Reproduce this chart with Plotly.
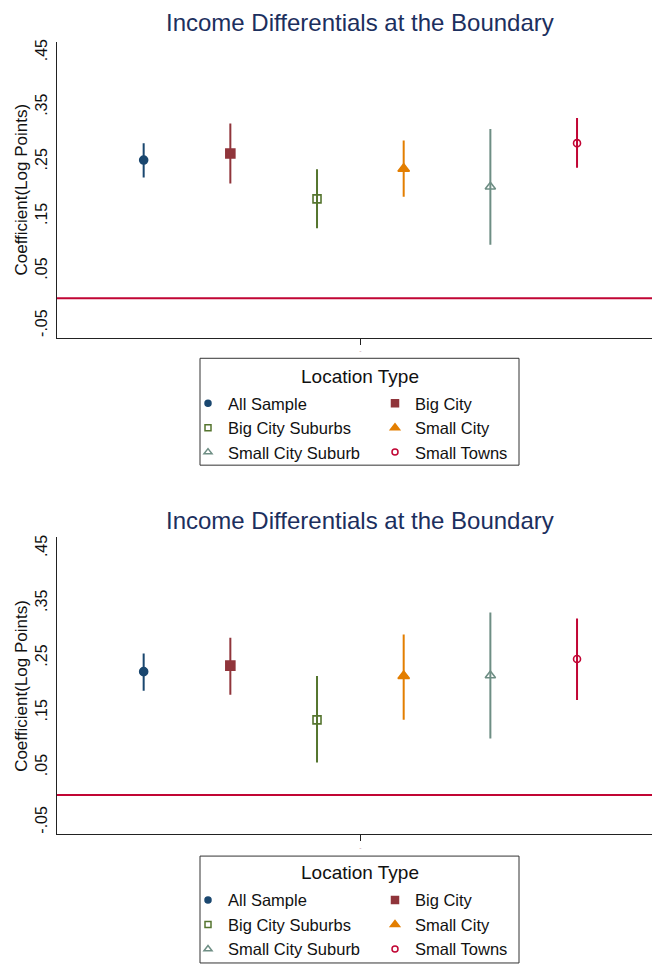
import plotly.graph_objects as go
from plotly.subplots import make_subplots

# Location types, in plotting order
categories = ["All Sample", "Big City", "Big City Suburbs",
              "Small City", "Small City Suburb", "Small Towns"]

# Panel A: point estimates and 95% confidence bounds
coef_a = [0.253, 0.265, 0.182, 0.237, 0.204, 0.284]
lo_a = [0.221, 0.210, 0.128, 0.186, 0.098, 0.239]
hi_a = [0.284, 0.320, 0.236, 0.289, 0.310, 0.330]

# Panel B: point estimates and 95% confidence bounds
coef_b = [0.225, 0.236, 0.137, 0.217, 0.218, 0.248]
lo_b = [0.190, 0.183, 0.059, 0.137, 0.103, 0.173]
hi_b = [0.258, 0.287, 0.217, 0.293, 0.333, 0.322]

ytick_vals = [-0.05, 0.05, 0.15, 0.25, 0.35, 0.45]
ytick_text = ["-.05", ".05", ".15", ".25", ".35", ".45"]

# Stata s2color-style palette and marker symbols
colors = ["#1a476f", "#90353b", "#55752f", "#e37e00", "#6e8e84", "#c10534"]
symbols = ["circle", "square", "square-open", "triangle-up",
           "triangle-up-open", "circle-open"]
sizes = [8, 9, 8, 10, 9, 7]
legend_sizes = [6, 7, 6, 8, 7, 6]

FONT = "Liberation Sans, Arial, Helvetica, sans-serif"
W, H = 652, 967
L = 57
PW = W - L


def px_x(p):
    return (p - L) / PW


def px_y(p):
    return 1 - p / H


fig = make_subplots(rows=2, cols=1)

panels = [(coef_a, lo_a, hi_a, 1, ("legend", "legend2")),
          (coef_b, lo_b, hi_b, 2, ("legend3", "legend4"))]

for coef, lo, hi, row, legs in panels:
    for i, name in enumerate(categories):
        fig.add_trace(
            go.Scatter(
                x=[i + 1], y=[coef[i]], name=name, mode="markers",
                marker=dict(symbol=symbols[i], size=sizes[i], color=colors[i],
                            line=dict(width=1.6, color=colors[i])),
                error_y=dict(type="data", symmetric=False,
                             array=[hi[i] - coef[i]],
                             arrayminus=[coef[i] - lo[i]],
                             color=colors[i], thickness=2, width=0),
                showlegend=False,
                hoverinfo="skip",
            ),
            row=row, col=1,
        )
    # legend keys (smaller symbols, two columns)
    for i, name in enumerate(categories):
        fig.add_trace(
            go.Scatter(
                x=[None], y=[None], name=name, mode="markers",
                marker=dict(symbol=symbols[i], size=legend_sizes[i],
                            color=colors[i],
                            line=dict(width=1.5, color=colors[i])),
                legend=legs[0] if i % 2 == 0 else legs[1],
                legendrank=i, showlegend=True,
            ),
            row=row, col=1,
        )

y_domains = [[px_y(338), px_y(39)], [px_y(840), px_y(540)]]
for k, dom in enumerate(y_domains, start=1):
    yname = "yaxis" if k == 1 else f"yaxis{k}"
    xname = "xaxis" if k == 1 else f"xaxis{k}"
    fig.layout[yname].update(
        domain=dom, range=[-0.072, 0.47],
        tickvals=ytick_vals, ticktext=ytick_text, tickangle=-90,
        showline=True, linecolor="#222", linewidth=1,
        ticks="", ticklabelstandoff=3,
        showgrid=False, zeroline=False,
        tickfont=dict(family=FONT, size=16, color="#111"),
    )
    fig.layout[xname].update(
        domain=[0, 1], range=[0, 6.865],
        tickvals=[3.5], ticktext=["-"],
        tickfont=dict(family=FONT, size=7, color="#caa"),
        showline=True, linecolor="#222", linewidth=1.2,
        ticks="outside", ticklen=6, tickcolor="#222",
        showgrid=False, zeroline=False,
    )
    # reference line at zero
    fig.add_shape(type="line", xref=f"x{'' if k == 1 else k} domain",
                  yref=f"y{'' if k == 1 else k}", x0=0, x1=1, y0=0, y1=0,
                  line=dict(color="#c10534", width=2))
    # vertical axis title, centred on the axis
    fig.add_annotation(text="Coefficient(Log Points)", textangle=-90,
                       xref="paper", yref="paper", x=px_x(22),
                       y=(dom[0] + dom[1]) / 2, showarrow=False,
                       xanchor="center", yanchor="middle",
                       font=dict(family=FONT, size=17, color="#111"))

# Titles
for ypx in (20, 523):
    fig.add_annotation(text="Income Differentials at the Boundary",
                       xref="paper", yref="paper", x=px_x(360), y=px_y(ypx),
                       showarrow=False, xanchor="center", yanchor="middle",
                       font=dict(family=FONT, size=24, color="#1c2f5e"))

# Legend frames and headings
for top, title_y in ((359, 377), (862, 879)):
    fig.add_shape(type="rect", xref="paper", yref="paper",
                  x0=px_x(200), x1=px_x(519), y0=px_y(top + 108), y1=px_y(top),
                  line=dict(color="#333", width=1), fillcolor="rgba(0,0,0,0)")
    fig.add_annotation(text="Location Type", xref="paper", yref="paper",
                       x=px_x(359.5), y=px_y(title_y), showarrow=False,
                       xanchor="center", yanchor="middle",
                       font=dict(family=FONT, size=19, color="#111"))

leg_common = dict(xanchor="left", yanchor="top", bgcolor="rgba(0,0,0,0)",
                  borderwidth=0, orientation="v", tracegroupgap=0,
                  itemsizing="trace",
                  font=dict(family=FONT, size=16.5, color="#111"))
fig.update_layout(
    legend=dict(x=px_x(188), y=px_y(387), **leg_common),
    legend2=dict(x=px_x(375), y=px_y(387), **leg_common),
    legend3=dict(x=px_x(188), y=px_y(889), **leg_common),
    legend4=dict(x=px_x(375), y=px_y(889), **leg_common),
)

fig.update_layout(
    width=W, height=H,
    margin=dict(l=L, r=0, t=0, b=0),
    paper_bgcolor="white", plot_bgcolor="white",
    font=dict(family=FONT, color="#111"),
)

fig.write_html("out.html")
